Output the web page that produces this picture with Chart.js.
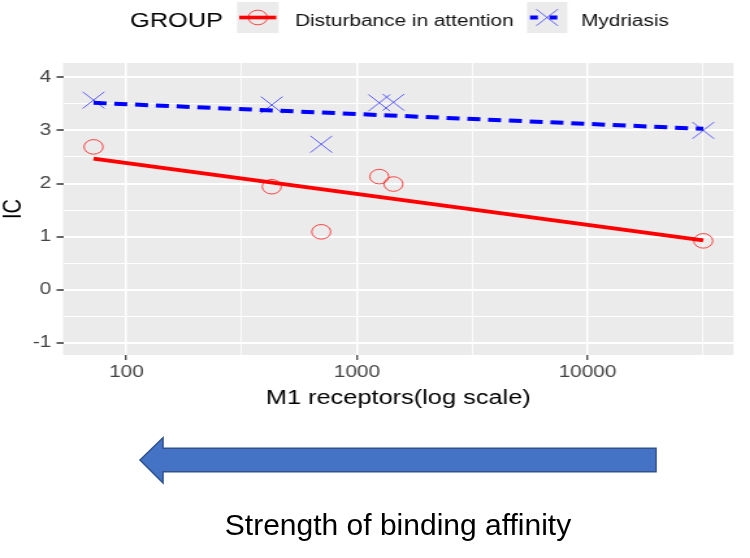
<!DOCTYPE html>
<html lang="en">
<head>
<meta charset="UTF-8" />
<title>IC vs M1 receptors</title>
<script src="https://cdn.jsdelivr.net/npm/chart.js@4.4.0/dist/chart.umd.min.js"></script>
<style>
  html, body { margin: 0; padding: 0; background: #fff; }
  #page { position: relative; width: 750px; height: 558px; overflow: hidden; }
  /* the original ggplot image was stretched sideways, so the canvas is too */
  #chart { position: absolute; left: 0; top: 0; transform: scaleX(1.3); transform-origin: 0 0; }
  #below { position: absolute; left: 0; top: 0; }
</style>
</head>
<body>
<div id="page">
  <canvas id="chart" width="577" height="410"></canvas>
  <svg id="below" width="750" height="558">
    <polygon points="140,460 163,437.7 163,448.3 656,448.3 656,471.7 163,471.7 163,483"
             fill="#4472C4" stroke="#2F528F" stroke-width="1.5" />
    <text x="398" y="535" text-anchor="middle" font-family="Liberation Sans, Arial, sans-serif"
          font-size="30" fill="#000">Strength of binding affinity</text>
  </svg>
</div>
<script>
// M1 receptor affinity of each drug (x, log scale)
const m1Affinity = [72, 427, 700, 1250, 1440, 31800];
// IC for each adverse effect group
const icAttention = [2.69, 1.94, 1.09, 2.13, 1.99, 0.92];
const icMydriasis = [3.57, 3.48, 2.74, 3.52, 3.53, 3.00];
// ends of the linear fits
const fitAttention = [2.47, 0.93];
const fitMydriasis = [3.52, 3.03];

const groupNames = ["Disturbance in attention", "Mydriasis"];
const xMajorTicks = [100, 1000, 10000];
const yMajorTicks = [-1, 0, 1, 2, 3, 4];

// ggplot style minor breaks halfway between the majors
const xGrid = [];
xMajorTicks.forEach(v => { xGrid.push(v); xGrid.push(Math.sqrt(v * v * 10)); });
const yGrid = [];
yMajorTicks.forEach(v => { yGrid.push(v); if (v < 4) yGrid.push(v + 0.5); });

const xLo = Math.min(...m1Affinity);
const xHi = Math.max(...m1Affinity);

const RED = "#FF0000";
const BLUE = "#0000FF";
const FONT = '"Liberation Sans", Arial, sans-serif';
Chart.defaults.font.family = FONT;

const panelAndLegend = {
  id: "panelAndLegend",
  beforeDraw(chart) {
    const { ctx, chartArea: a } = chart;
    ctx.save();
    ctx.fillStyle = "#EBEBEB";
    ctx.fillRect(a.left, a.top, a.right - a.left, a.bottom - a.top);
    ctx.restore();
  },
  afterDraw(chart) {
    const ctx = chart.ctx;
    ctx.save();
    ctx.textBaseline = "alphabetic";
    ctx.fillStyle = "#000";
    ctx.font = "19.5px " + FONT;
    ctx.fillText("GROUP", 100, 27);

    // key boxes
    ctx.fillStyle = "#EBEBEB";
    ctx.fillRect(182.3, 2, 32, 31);
    ctx.fillRect(405.4, 2, 31, 31);

    // red key: line + circle
    ctx.strokeStyle = RED;
    ctx.lineWidth = 3.6;
    ctx.beginPath(); ctx.moveTo(184, 17.5); ctx.lineTo(212.5, 17.5); ctx.stroke();
    ctx.strokeStyle = "rgba(255,0,0,0.7)";
    ctx.lineWidth = 1;
    ctx.beginPath(); ctx.arc(198.3, 17.5, 7.3, 0, Math.PI * 2); ctx.stroke();

    // blue key: dashed line + x
    ctx.strokeStyle = BLUE;
    ctx.lineWidth = 4;
    ctx.setLineDash([6, 9]);
    ctx.beginPath(); ctx.moveTo(407.7, 17.5); ctx.lineTo(434, 17.5); ctx.stroke();
    ctx.setLineDash([]);
    ctx.strokeStyle = "rgba(30,30,255,0.7)";
    ctx.lineWidth = 1;
    const cx = 420.8, cy = 17.5, d = 8.3;
    ctx.beginPath();
    ctx.moveTo(cx - d, cy - d); ctx.lineTo(cx + d, cy + d);
    ctx.moveTo(cx - d, cy + d); ctx.lineTo(cx + d, cy - d);
    ctx.stroke();

    ctx.fillStyle = "#111";
    ctx.font = "16px " + FONT;
    ctx.fillText(groupNames[0], 227, 26);
    ctx.fillText(groupNames[1], 447, 26);
    ctx.restore();
  }
};

new Chart(document.getElementById("chart"), {
  type: "scatter",
  data: {
    datasets: [
      {
        label: groupNames[0] + " fit",
        data: [{ x: xLo, y: fitAttention[0] }, { x: xHi, y: fitAttention[1] }],
        showLine: true,
        borderColor: RED,
        borderWidth: 3.7,
        pointRadius: 0
      },
      {
        label: groupNames[1] + " fit",
        data: [{ x: xLo, y: fitMydriasis[0] }, { x: xHi, y: fitMydriasis[1] }],
        showLine: true,
        borderColor: BLUE,
        borderWidth: 4,
        borderDash: [10, 6],
        pointRadius: 0
      },
      {
        label: groupNames[0],
        data: m1Affinity.map((x, i) => ({ x: x, y: icAttention[i] })),
        pointStyle: "circle",
        pointRadius: 7.3,
        pointBorderWidth: 1,
        pointBorderColor: "rgba(255,0,0,0.7)",
        pointBackgroundColor: "transparent"
      },
      {
        label: groupNames[1],
        data: m1Affinity.map((x, i) => ({ x: x, y: icMydriasis[i] })),
        pointStyle: "crossRot",
        pointRadius: 11.8,
        pointBorderWidth: 1,
        pointBorderColor: "rgba(30,30,255,0.7)",
        pointBackgroundColor: "transparent"
      }
    ]
  },
  options: {
    responsive: false,
    animation: false,
    events: [],
    layout: { padding: { top: 63, right: 9, left: 0, bottom: 0 } },
    plugins: { legend: { display: false }, tooltip: { enabled: false } },
    scales: {
      x: {
        type: "logarithmic",
        min: 53.1,
        max: 43000,
        afterBuildTicks: s => { s.ticks = xGrid.map(v => ({ value: v })); },
        afterFit: s => { s.height = 55; s.paddingLeft = 0; s.paddingRight = 0; },
        border: { display: false },
        grid: {
          color: "#FFFFFF",
          lineWidth: c => (xMajorTicks.includes(c.tick && c.tick.value) ? 1.5 : 0.8),
          tickLength: 5,
          tickWidth: 1.2,
          tickColor: c => (xMajorTicks.includes(c.tick && c.tick.value) ? "#333333" : "rgba(0,0,0,0)")
        },
        ticks: {
          autoSkip: false,
          maxRotation: 0,
          padding: 3,
          color: "#444444",
          font: { size: 16 },
          callback: v => (xMajorTicks.includes(v) ? String(v) : "")
        },
        title: {
          display: true,
          text: "M1 receptors(log scale)",
          color: "#000",
          font: { size: 19.5 },
          padding: 0
        }
      },
      y: {
        min: -1.23,
        max: 4.27,
        afterBuildTicks: s => { s.ticks = yGrid.map(v => ({ value: v })); },
        afterFit: s => { s.width = 48.5; s.paddingTop = 0; s.paddingBottom = 0; },
        border: { display: false },
        grid: {
          color: "#FFFFFF",
          lineWidth: c => (Number.isInteger(c.tick && c.tick.value) ? 2 : 1),
          tickLength: 5,
          tickWidth: 1.5,
          tickColor: c => (Number.isInteger(c.tick && c.tick.value) ? "#333333" : "rgba(0,0,0,0)")
        },
        ticks: {
          autoSkip: false,
          padding: 4,
          color: "#444444",
          font: { size: 16 },
          callback: v => (Number.isInteger(v) ? String(v) : "")
        },
        title: {
          display: true,
          text: "IC",
          color: "#000",
          font: { size: 20, lineHeight: 1 },
          padding: 0
        }
      }
    }
  },
  plugins: [panelAndLegend]
});
</script>
</body>
</html>
